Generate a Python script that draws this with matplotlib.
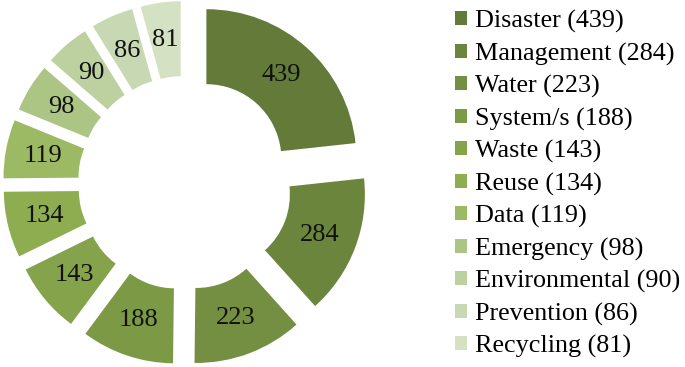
import matplotlib
matplotlib.use("Agg")
import matplotlib.pyplot as plt

categories = ["Disaster", "Management", "Water", "System/s", "Waste", "Reuse",
              "Data", "Emergency", "Environmental", "Prevention", "Recycling"]
values = [439, 284, 223, 188, 143, 134, 119, 98, 90, 86, 81]
colors = ["#637A38", "#6B853C", "#748F41", "#7C9946", "#85A34B", "#8EAD50",
          "#9CBA64", "#ACC584", "#BCD0A0", "#C8D8B2", "#D4E1C3"]

plt.rcParams['font.family'] = ['Liberation Serif', 'DejaVu Serif']

W, H = 685, 367
fig = plt.figure(figsize=(W / 100, H / 100), dpi=100)
ax = fig.add_axes([0, 0, 1, 1])

total = sum(values)
R = 150
cx, cy = 185, H - 183
expl = [32] * len(values)

wedges, texts, autotexts = ax.pie(
    values, colors=colors, startangle=90, counterclock=False,
    radius=R, center=(cx, cy), explode=expl,
    wedgeprops=dict(width=R * 0.5, linewidth=0),
    autopct=lambda p: f"{round(p * total / 100)}", pctdistance=0.75,
    textprops=dict(fontsize=19, color="#111111"))

ax.set_xlim(0, W)
ax.set_ylim(0, H)
ax.set_aspect('equal')
ax.axis('off')

labels = [f"{c} ({v})" for c, v in zip(categories, values)]
ax.legend(wedges, labels, loc='center left', bbox_to_anchor=(455 / W, 1 - 184 / H),
          frameon=False, fontsize=18.8, borderpad=0, borderaxespad=0,
          handlelength=0.46, handleheight=0.46, handletextpad=0.3,
          labelspacing=0.36)

fig.savefig("out.png", dpi=100)
